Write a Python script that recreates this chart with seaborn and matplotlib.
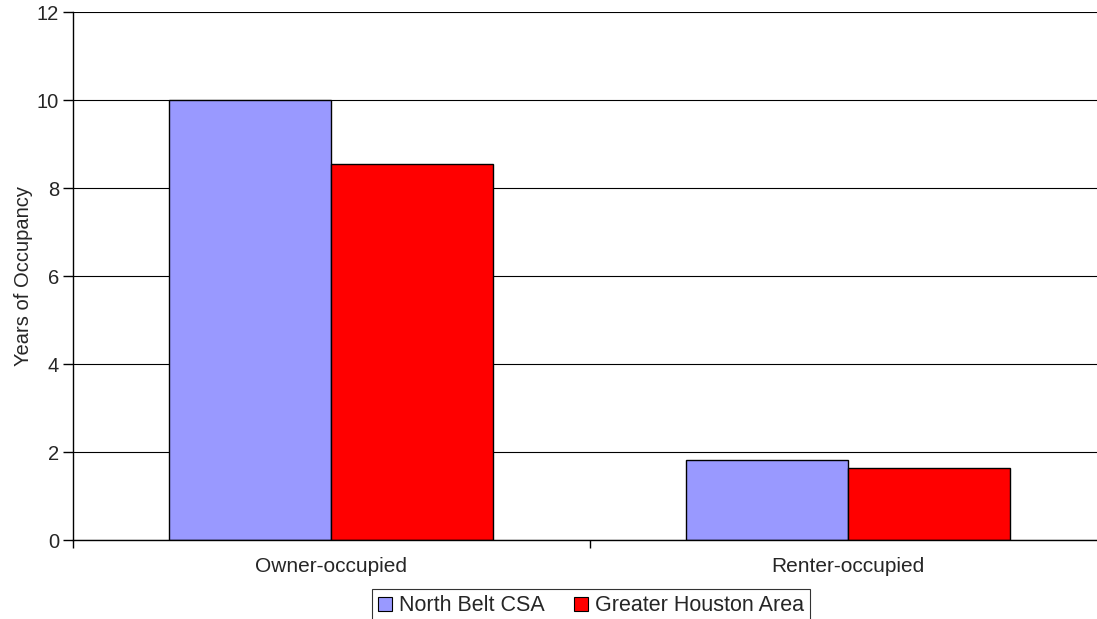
import pandas as pd
import matplotlib
matplotlib.use("Agg")
import matplotlib.pyplot as plt
import seaborn as sns

sns.set_style("white")
plt.rcParams['font.family'] = ['Liberation Sans', 'DejaVu Sans']

# values
tenure = ["Owner-occupied", "Renter-occupied"]
north_belt = [10.0, 1.82]
greater_houston = [8.55, 1.63]
series = ["North Belt CSA", "Greater Houston Area"]
colors = ["#9999FF", "#FF0000"]

df = pd.DataFrame({
    "tenure": tenure * 2,
    "years": north_belt + greater_houston,
    "area": [series[0]] * len(tenure) + [series[1]] * len(tenure),
})

fig = plt.figure(figsize=(10.97, 6.19), dpi=100)
ax = fig.add_axes([73 / 1097, 79 / 619, 1033 / 1097, 528 / 619])

sns.barplot(data=df, x="tenure", y="years", hue="area", palette=colors, saturation=1,
            width=0.628, edgecolor="black", linewidth=1, ax=ax, legend=False)

ax.set_xlim(-0.5, 1.5)
ax.set_ylim(0, 12)
ax.set_yticks(range(0, 13, 2))
ax.yaxis.grid(True, color="black", linewidth=0.8)
ax.set_axisbelow(True)
ax.set_xticks([-0.5, 0.5, 1.5], minor=True)
ax.set_xticks([0, 1])
ax.set_xticklabels(tenure, fontsize=15)
ax.tick_params(axis="x", which="major", length=0, pad=12)
ax.tick_params(axis="x", which="minor", bottom=True, length=6, color="black", width=1, direction="out")
ax.tick_params(axis="y", length=7, color="black", width=1, labelsize=14.5, left=True, pad=3)
ax.set_xlabel("")
ax.set_ylabel("Years of Occupancy", fontsize=14.5, labelpad=3)

for side in ["top", "right"]:
    ax.spines[side].set_visible(False)
for side in ["left", "bottom"]:
    ax.spines[side].set_color("black")
    ax.spines[side].set_linewidth(1)

handles = [plt.Rectangle((0, 0), 1, 1, facecolor=c, edgecolor="black", linewidth=0.8) for c in colors]
leg = fig.legend(handles, series, loc="upper center", bbox_to_anchor=(591 / 1097, 1 - 589 / 619),
                 ncol=2, fontsize=15.5, frameon=True, fancybox=False, edgecolor="black",
                 handlelength=0.65, handleheight=0.65, handletextpad=0.3, columnspacing=1.4,
                 borderpad=0.3, borderaxespad=0)
leg.get_frame().set_linewidth(0.8)

fig.savefig("out.png", dpi=100)
